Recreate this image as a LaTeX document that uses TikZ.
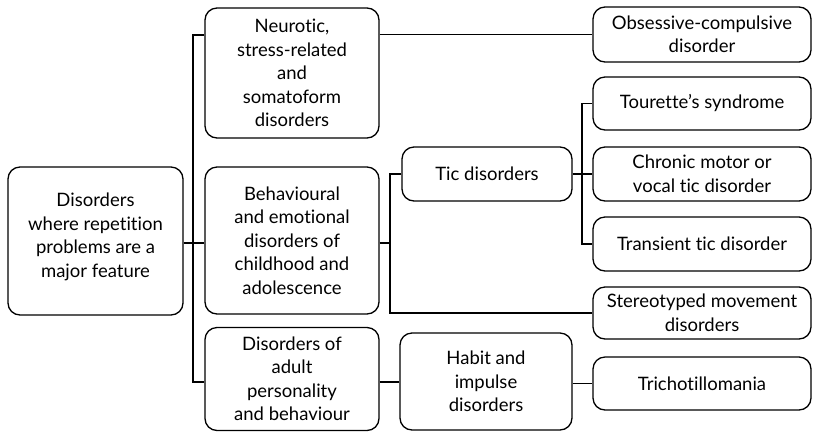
\documentclass[tikz,border=0pt]{standalone}
\usepackage{fontspec}
\setmainfont{Lato}[Ligatures={NoCommon}]
\begin{document}
\begin{tikzpicture}[x=1pt,y=1pt,
  box/.style={draw, line width=1.3pt, rounded corners=12pt, align=center, inner sep=2pt,
    font=\fontsize{18.5}{23.5}\selectfont},
  link/.style={line width=1.1pt}]
\useasboundingbox (0,0) rectangle (813,-432);
% level 1
\node[box, minimum width=175, minimum height=148] (root) at (95.5,-241) {Disorders\\where repetition\\problems are a\\major feature\\[-12pt]\mbox{}};
% level 2
\node[box, minimum width=174, minimum height=130] (neur) at (292,-73) {Neurotic,\\stress-related\\and\\somatoform\\disorders};
\node[box, minimum width=174, minimum height=147] (beh) at (292,-240.5) {Behavioural\\and emotional\\disorders of\\childhood and\\adolescence};
\node[box, minimum width=174, minimum height=103] (adult) at (292,-379) {Disorders of\\adult\\personality\\and behaviour};
% level 3
\node[box, minimum width=170, minimum height=54] (tic) at (487,-174) {Tic disorders};
\node[box, minimum width=172, minimum height=97] (habit) at (486,-381.5) {Habit and\\impulse\\disorders};
% right column
\node[box, minimum width=218, minimum height=55] (ocd) at (702,-34.5) {Obsessive-compulsive\\disorder};
\node[box, minimum width=218, minimum height=53] (tour) at (702,-103.5) {Tourette's syndrome};
\node[box, minimum width=218, minimum height=54] (chron) at (702,-174) {Chronic motor or\\vocal tic disorder};
\node[box, minimum width=218, minimum height=54] (trans) at (702,-244) {Transient tic disorder};
\node[box, minimum width=218, minimum height=52] (stereo) at (702,-313) {Stereotyped movement\\disorders};
\node[box, minimum width=218, minimum height=53] (tricho) at (702,-383.5) {Trichotillomania};
% junctions
\coordinate (j1) at (193,-243);
\coordinate (j1top) at (193,-35);
\coordinate (j1bot) at (193,-382);
\coordinate (j2) at (390,-243);
\coordinate (j2bot) at (390,-313);
\coordinate (j3) at (582,-174);
\coordinate (j3bot) at (582,-244);
% connectors
\draw[link] (root.east |- j1) -- (j1);
\draw[link] (neur.west |- j1top) -- (j1top) -- (j1bot) -- (adult.west |- j1bot);
\draw[link] (j1) -- (beh.west |- j1);
\draw[link] (neur.east |- ocd.west) -- (ocd.west);
\draw[link] (beh.east |- j2) -- (j2);
\draw[link] (tic.west) -| (j2bot) -- (stereo.west);
\draw[link] (tic.east) -- (chron.west);
\draw[link] (tour.west) -| (j3bot) -- (trans.west);
\draw[link] (adult.east |- j1bot) -- (habit.west |- j1bot);
\draw[link] (habit.east |- tricho.west) -- (tricho.west);
\end{tikzpicture}
\end{document}
